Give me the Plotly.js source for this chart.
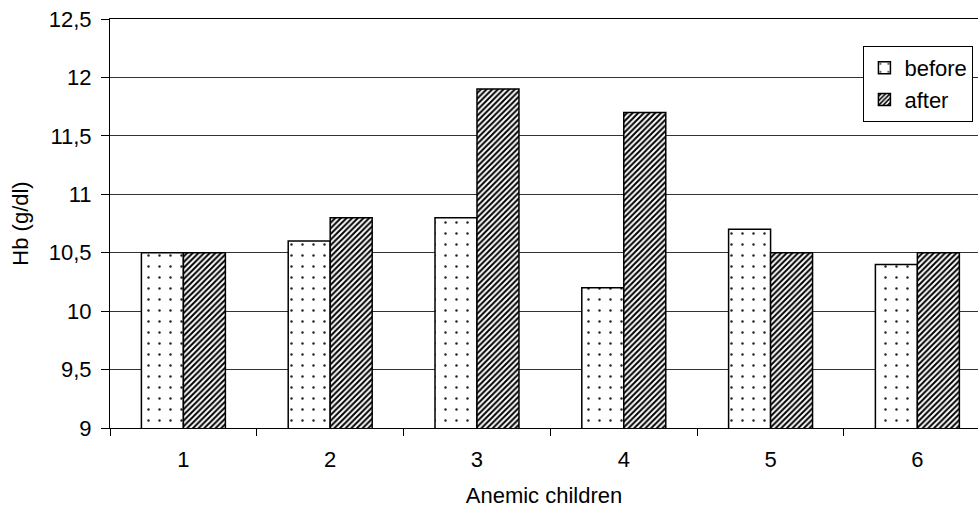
<!DOCTYPE html>
<html>
<head>
<meta charset="utf-8">
<script src="https://cdn.plot.ly/plotly-3.0.1.min.js"></script>
<style>html,body{margin:0;padding:0;background:#fff;}#chart{width:978px;height:517px;}</style>
</head>
<body>
<div id="chart"></div>
<script>
const categories = ['1', '2', '3', '4', '5', '6'];
const before = [10.5, 10.6, 10.8, 10.2, 10.7, 10.4];
const after = [10.5, 10.8, 11.9, 11.7, 10.5, 10.5];
const seriesNames = ['before', 'after'];
const xTitle = 'Anemic children';
const yTitle = 'Hb (g/dl)';

const font = {family: 'Arial, "Liberation Sans", sans-serif', size: 22, color: '#000'};

const traces = [
  {
    type: 'bar', name: seriesNames[0], x: categories, y: before,
    marker: {
      color: 'white',
      line: {color: 'black', width: 1.5},
      pattern: {shape: '.', bgcolor: 'white', fgcolor: '#222', size: 11, solidity: 0.04}
    }
  },
  {
    type: 'bar', name: seriesNames[1], x: categories, y: after,
    marker: {
      color: 'white',
      line: {color: 'black', width: 1.5},
      pattern: {shape: '/', bgcolor: 'white', fgcolor: 'black', size: 4, solidity: 0.5}
    }
  }
];

const layout = {
  width: 978, height: 517,
  margin: {l: 110, r: 0, t: 19, b: 89},
  paper_bgcolor: 'white', plot_bgcolor: 'white',
  font: font,
  separators: ', ',
  barmode: 'group',
  bargap: 0.428,
  bargroupgap: 0,
  showlegend: true,
  legend: {
    x: 0.868, xanchor: 'left', y: 0.934, yanchor: 'top',
    bordercolor: 'black', borderwidth: 1, bgcolor: 'white',
    font: font, itemwidth: 30, tracegroupgap: 0
  },
  xaxis: {
    type: 'category',
    range: [-0.5, 5.413],
    showline: true, linecolor: 'black', linewidth: 1, mirror: true,
    ticks: 'outside', tickson: 'boundaries', ticklen: 7, tickcolor: '#000', tickwidth: 1,
    ticklabelstandoff: 12,
    showgrid: false, zeroline: false,
    tickfont: font,
    title: {text: xTitle, font: font, standoff: 16},
    automargin: false
  },
  yaxis: {
    range: [9, 12.5], dtick: 0.5, tick0: 9,
    showline: true, linecolor: 'black', linewidth: 1,
    ticks: 'outside', ticklen: 8, tickcolor: '#000', tickwidth: 1,
    ticklabelstandoff: 5,
    showgrid: true, gridcolor: '#333', gridwidth: 1,
    zeroline: false,
    tickfont: font,
    title: {text: yTitle, font: font, standoff: 14},
    automargin: false
  }
};

Plotly.newPlot('chart', traces, layout, {displayModeBar: false, staticPlot: true});
</script>
</body>
</html>
